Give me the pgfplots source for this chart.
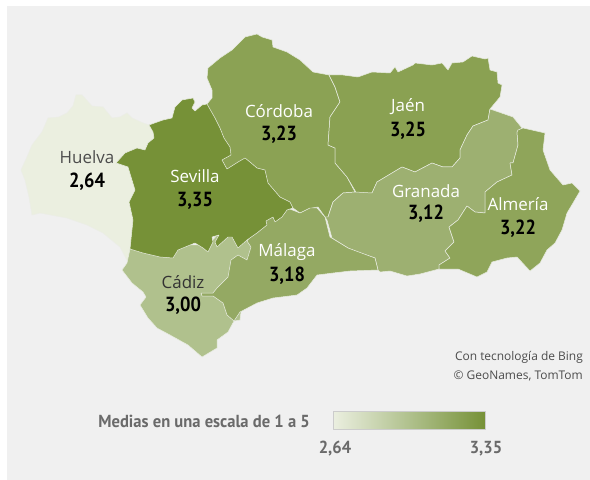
\documentclass[border=0pt]{standalone}
\usepackage{fontspec}
\setmainfont{Open Sans}
\newfontfamily\din[FakeStretch=0.9]{PT Sans}
\newfontfamily\dinl[FakeStretch=0.95]{PT Sans}
\usepackage{pgfplots}
\pgfplotsset{compat=1.18}
\definecolor{panel}{HTML}{F0F0F0}
\definecolor{edge}{HTML}{E9EDE2}
\definecolor{huelva}{HTML}{EBEFE0}
\definecolor{sevilla}{HTML}{769137}
\definecolor{cordoba}{HTML}{8BA254}
\definecolor{jaen}{HTML}{8AA152}
\definecolor{granada}{HTML}{9DB071}
\definecolor{almeria}{HTML}{8FA55A}
\definecolor{malaga}{HTML}{94A963}
\definecolor{cadiz}{HTML}{B0C18D}
\definecolor{legtext}{HTML}{6A6A6A}
\newcommand{\prov}[4]{\node[font=\fontsize{17}{19}\selectfont,text=#4] at (axis cs:#1,#2-12) {#3};}
\newcommand{\val}[3]{\node[font=\din\bfseries\fontsize{20.5}{22}\selectfont,text=black] at (axis cs:#1,#2) {#3};}
\begin{document}
\begin{tikzpicture}
\begin{axis}[
    width=590bp, height=480bp, scale only axis,
    xmin=0, xmax=590, ymin=0, ymax=480, y dir=reverse,
    hide axis, clip=true,
    every axis plot/.append style={line join=round}
]
% page and panel
\addplot[fill=white, draw=none] coordinates {(0,0) (590,0) (590,480) (0,480)} -- cycle;
\addplot[fill=panel, draw=none] coordinates {(7,6) (590,6) (590,480) (7,480)} -- cycle;

% Huelva
\addplot[fill=huelva, draw=edge!70!panel, line width=0.5pt] coordinates {
(116,163) (125,153) (137,148) (145,150) (148,143) (154,138) (153,132) (149,125) (143,123) (132,118) (127,113)
(120,117) (112,118) (103,107) (92,106) (82,95) (76,95) (73,106) (67,113) (59,117) (48,118) (42,132) (32,145)
(27,157) (21,170) (25,180) (29,197) (32,215) (40,213) (67,218) (87,225) (103,233) (120,247) (128,262)
(140,240) (150,170)
} -- cycle;
% Cadiz
\addplot[fill=cadiz, draw=edge, line width=0.5pt] coordinates {
(127,263) (130,249) (178,245) (208,245) (220,232) (240,236) (248,238) (252,248) (247,262) (240,320) (234,321)
(228,332) (217,340) (217,348) (202,357) (188,345) (170,335) (157,328) (148,318) (140,305) (146,297) (143,292) (132,283) (122,270)
} -- cycle;
% Cordoba
\addplot[fill=cordoba, draw=edge, line width=0.5pt] coordinates {
(207,104) (212,98) (212,90) (207,78) (208,68) (220,58) (232,50) (245,37) (257,34) (262,37) (272,40) (273,47)
(287,52) (300,60) (313,72) (329,75) (335,87) (340,102) (330,117) (328,145) (335,148) (335,163) (347,177)
(355,192) (343,193) (333,202) (328,217) (325,217) (318,207) (312,208) (300,213) (293,208) (270,205) (210,170) (200,110)
} -- cycle;
% Jaen
\addplot[fill=jaen, draw=edge, line width=0.5pt] coordinates {
(329,75) (343,75) (358,77) (372,72) (390,73) (395,67) (398,72) (413,65) (415,63) (432,65) (442,63) (448,70)
(452,63) (463,62) (472,56) (485,59) (488,58) (490,70) (497,72) (498,83) (502,85) (500,97) (490,109) (488,120)
(473,126) (467,135) (460,150) (460,158) (452,167) (443,167) (432,163) (415,172) (402,167) (377,182) (372,193)
(357,194) (347,177) (335,163) (335,148) (328,145) (330,117) (340,102) (335,87)
} -- cycle;
% Granada
\addplot[fill=granada, draw=edge, line width=0.5pt] coordinates {
(490,109) (513,117) (522,128) (517,132) (518,145) (513,163) (510,163) (512,175) (497,182) (485,192) (485,213)
(475,212) (467,206) (458,220) (449,227) (454,242) (445,251) (450,258) (439,265) (439,269) (420,274) (407,276)
(390,271) (380,272) (378,270) (375,258) (360,253) (348,248) (332,238) (327,220) (325,217) (328,217) (333,202)
(343,193) (355,192) (372,193) (377,182) (402,167) (415,172) (432,163) (443,167) (452,167) (460,158) (460,150)
(467,135) (473,126) (488,120)
} -- cycle;
% Almeria
\addplot[fill=almeria, draw=edge, line width=0.5pt] coordinates {
(518,130) (523,128) (545,133) (543,150) (550,170) (563,185) (572,183) (580,191) (573,203) (567,213) (562,230)
(555,243) (547,250) (540,263) (530,271) (517,257) (507,258) (492,262) (487,272) (477,277) (458,269) (439,269)
(439,265) (450,258) (445,251) (454,242) (449,227) (458,220) (467,206) (475,212) (485,213) (485,192) (497,182)
(512,175) (510,163) (513,163) (518,145) (517,132)
} -- cycle;
% Malaga
\addplot[fill=malaga, draw=edge, line width=0.5pt] coordinates {
(247,241) (257,228) (265,215) (282,210) (287,208) (295,211) (300,213) (310,208) (317,208) (325,217)
(330,237) (348,248) (375,258) (378,270) (350,271) (333,273) (317,275) (307,288) (297,295) (273,298) (257,303)
(240,312) (234,321) (227,315) (223,303) (213,296) (202,296) (201,293) (213,293) (217,288) (228,277) (231,260) (238,255)
(247,260) (251,247)
} -- cycle;
% Sevilla
\addplot[fill=sevilla, draw=edge, line width=0.5pt] coordinates {
(116,163) (125,153) (137,148) (145,150) (148,143) (154,138) (153,132) (149,125) (163,120) (172,118) (175,107)
(182,100) (193,98) (195,102) (192,108) (195,111) (202,105) (207,104) (215,118) (220,128) (224,138) (230,147)
(231,155) (222,160) (227,169) (238,162) (245,158) (250,162) (257,168) (265,170) (268,183) (280,197) (290,202)
(293,208) (287,210) (282,217) (275,222) (273,217) (266,221) (267,225) (257,233) (247,240) (238,248) (232,237)
(228,237) (217,247) (215,242) (219,235) (212,237) (213,242) (208,252) (203,248) (195,243) (178,250) (173,258)
(160,257) (143,253) (130,249) (133,220) (129,202) (135,190) (128,167)
} -- cycle;

% labels
\prov{87}{169}{Huelva}{black!70}
\val{87}{182}{2,64}
\prov{195}{188}{Sevilla}{white}
\val{195}{201}{3,35}
\prov{279}{123}{Córdoba}{white}
\val{279}{135}{3,23}
\prov{408}{119}{Jaén}{white}
\val{408}{131}{3,25}
\prov{426}{203}{Granada}{white}
\val{426}{214}{3,12}
\prov{518}{216}{Almería}{white}
\val{518}{229}{3,22}
\prov{287}{264}{Málaga}{white}
\val{287}{276}{3,18}
\prov{183}{294}{Cádiz}{black!80}
\val{183}{306}{3,00}

% credit
\node[anchor=east, inner sep=0pt, font=\fontsize{12}{14}\selectfont, text=black!70] at (axis cs:583,357) {Con tecnología de Bing};
\node[anchor=east, inner sep=0pt, font=\fontsize{12}{14}\selectfont, text=black!70] at (axis cs:583,376) {© GeoNames, TomTom};

% colour scale
\addplot[draw=black!20, line width=0.8pt, left color=huelva, right color=sevilla, middle color=cadiz] coordinates {(333,411) (485,411) (485,429) (333,429)} -- cycle;
\node[anchor=east, inner sep=0pt, font=\dinl\bfseries\fontsize{17.5}{19}\selectfont, text=legtext] at (axis cs:310,421) {Medias en una escala de 1 a 5};
\node[font=\dinl\bfseries\fontsize{17.5}{19}\selectfont, text=legtext] at (axis cs:335,449) {2,64};
\node[font=\dinl\bfseries\fontsize{17.5}{19}\selectfont, text=legtext] at (axis cs:486,449) {3,35};
\end{axis}
\end{tikzpicture}
\end{document}
